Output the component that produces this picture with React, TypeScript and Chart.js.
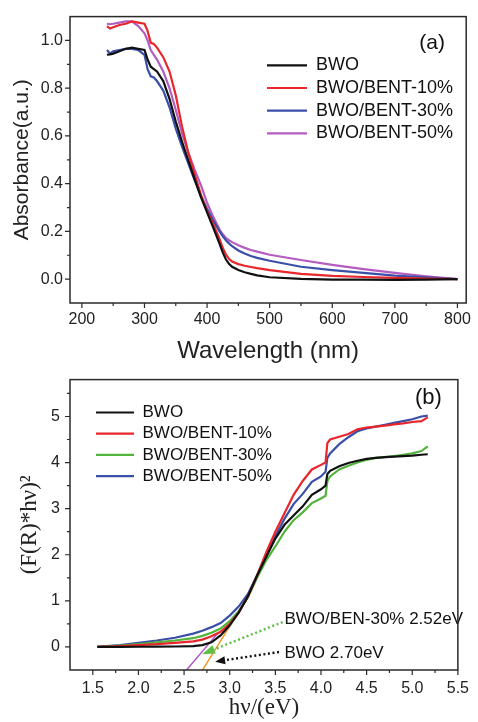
import React, { useEffect, useRef } from "react";
import { Chart, registerables } from "chart.js";

Chart.register(...registerables);

const SANS = "'Liberation Sans', Arial, Helvetica, sans-serif";
const SERIF = "'Liberation Serif', 'Times New Roman', serif";

// ---------------- Panel (a): absorbance vs wavelength ----------------
const seriesLabels = ["BWO", "BWO/BENT-10%", "BWO/BENT-30%", "BWO/BENT-50%"];

const wavelengthA = [240, 245, 250, 260, 270, 280, 290, 300, 305, 310, 315, 320, 330, 340, 350, 360, 370, 380, 390, 400, 410, 420, 425, 430, 435, 440, 450, 460, 470, 480, 500, 550, 600, 650, 700, 750, 800];
const absBWO = [0.94, 0.942, 0.945, 0.955, 0.965, 0.97, 0.965, 0.96, 0.92, 0.89, 0.88, 0.87, 0.83, 0.755, 0.66, 0.575, 0.498, 0.42, 0.345, 0.28, 0.215, 0.148, 0.112, 0.083, 0.064, 0.052, 0.038, 0.029, 0.022, 0.016, 0.008, 0.001, -0.002, -0.002, -0.003, -0.002, 0.0];
const absBENT10 = [1.06, 1.05, 1.055, 1.065, 1.07, 1.08, 1.075, 1.07, 1.04, 0.99, 0.985, 0.97, 0.93, 0.87, 0.77, 0.64, 0.53, 0.44, 0.355, 0.285, 0.23, 0.168, 0.132, 0.104, 0.085, 0.074, 0.063, 0.056, 0.051, 0.046, 0.038, 0.022, 0.014, 0.009, 0.005, 0.002, 0.0];
const absBENT30 = [0.96, 0.945, 0.955, 0.96, 0.965, 0.965, 0.96, 0.94, 0.88, 0.85, 0.845, 0.83, 0.79, 0.72, 0.63, 0.555, 0.485, 0.415, 0.35, 0.295, 0.245, 0.2, 0.18, 0.163, 0.15, 0.138, 0.12, 0.107, 0.097, 0.089, 0.077, 0.052, 0.038, 0.026, 0.015, 0.007, 0.0];
const absBENT50 = [1.07, 1.068, 1.07, 1.075, 1.08, 1.08, 1.06, 1.03, 1.0, 0.96, 0.94, 0.92, 0.87, 0.8, 0.71, 0.61, 0.53, 0.46, 0.395, 0.32, 0.26, 0.208, 0.188, 0.173, 0.163, 0.155, 0.142, 0.131, 0.122, 0.115, 0.102, 0.08, 0.06, 0.042, 0.026, 0.012, 0.0];

const xMajorA = [200, 300, 400, 500, 600, 700, 800];
const xMinorA = [250, 350, 450, 550, 650, 750];
const yMajorA = [0.0, 0.2, 0.4, 0.6, 0.8, 1.0];
const yMinorA = [0.1, 0.3, 0.5, 0.7, 0.9];

// ---------------- Panel (b): (F(R)*hv)^2 vs hv ----------------
const energyB = [1.55, 1.8, 2.0, 2.2, 2.4, 2.6, 2.7, 2.8, 2.9, 3.0, 3.1, 3.2, 3.3, 3.4, 3.5, 3.6, 3.7, 3.8, 3.9, 4.0, 4.05, 4.07, 4.1, 4.2, 4.3, 4.4, 4.5, 4.6, 4.7, 4.8, 4.9, 5.0, 5.1, 5.17];
const kmBWO = [0, 0.002, 0.004, 0.006, 0.01, 0.02, 0.04, 0.1, 0.25, 0.47, 0.75, 1.1, 1.55, 1.95, 2.35, 2.65, 2.85, 3.05, 3.3, 3.42, 3.5, 3.75, 3.82, 3.92, 3.99, 4.04, 4.08, 4.1, 4.12, 4.13, 4.14, 4.15, 4.17, 4.18];
const kmBENT10 = [0, 0.02, 0.04, 0.06, 0.09, 0.12, 0.16, 0.23, 0.33, 0.5, 0.75, 1.1, 1.55, 2.05, 2.5, 2.9, 3.3, 3.6, 3.85, 3.95, 4.0, 4.42, 4.5, 4.56, 4.62, 4.72, 4.76, 4.78, 4.8, 4.83, 4.85, 4.88, 4.9, 4.98];
const kmBENT30 = [0, 0.03, 0.06, 0.1, 0.14, 0.19, 0.24, 0.31, 0.4, 0.56, 0.78, 1.08, 1.5, 1.88, 2.18, 2.5, 2.75, 2.92, 3.12, 3.22, 3.28, 3.6, 3.7, 3.85, 3.93, 4.0, 4.06, 4.1, 4.12, 4.14, 4.17, 4.2, 4.25, 4.35];
const kmBENT50 = [0, 0.04, 0.09, 0.14, 0.2, 0.29, 0.35, 0.43, 0.52, 0.68, 0.88, 1.15, 1.55, 2.0, 2.4, 2.78, 3.1, 3.32, 3.58, 3.7, 3.8, 4.1, 4.2, 4.4, 4.55, 4.68, 4.74, 4.78, 4.82, 4.86, 4.9, 4.94, 5.0, 5.02];

const tangentBWOx = [2.697, 3.215];
const tangentBWOy = [-0.517, 1.135];
const tangent30x = [2.518, 2.875];
const tangent30y = [-0.52, 0.31];

const annoTexts = ["BWO/BEN-30% 2.52eV", "BWO 2.70eV"];
const annoX = [3.6, 3.6];
const annoY = [0.6, -0.144];
const arrowTailX = [3.58, 3.54];
const arrowTailY = [0.54, -0.11];
const arrowTipX = [2.697, 2.84];
const arrowTipY = [-0.157, -0.32];

const xMajorB = [1.5, 2.0, 2.5, 3.0, 3.5, 4.0, 4.5, 5.0, 5.5];
const xMinorB = [1.75, 2.25, 2.75, 3.25, 3.75, 4.25, 4.75, 5.25];
const yMajorB = [0, 1, 2, 3, 4, 5];
const yMinorB = [0.5, 1.5, 2.5, 3.5, 4.5, 5.5];

// ---------------- plugins ----------------
const framePlugin = {
  id: "frame",
  afterDraw(chart: any, _a: any, opts: any) {
    const { ctx, chartArea: a, scales } = chart;
    const xs = scales.x;
    const ys = scales.y;
    ctx.save();
    ctx.strokeStyle = "#2a2a2a";
    ctx.lineWidth = 1.5;
    ctx.strokeRect(a.left, a.top, a.right - a.left, a.bottom - a.top);
    ctx.lineWidth = 1.2;
    ctx.beginPath();
    const tick = (v: number, len: number, horiz: boolean) => {
      if (horiz) {
        const p = xs.getPixelForValue(v);
        ctx.moveTo(p, a.bottom);
        ctx.lineTo(p, a.bottom + len);
      } else {
        const p = ys.getPixelForValue(v);
        ctx.moveTo(a.left, p);
        ctx.lineTo(a.left - len, p);
      }
    };
    opts.xMajor.forEach((v: number) => tick(v, 5, true));
    opts.xMinor.forEach((v: number) => tick(v, 3, true));
    opts.yMajor.forEach((v: number) => tick(v, 5, false));
    opts.yMinor.forEach((v: number) => tick(v, 3, false));
    ctx.stroke();
    if (opts.label) {
      ctx.font = `${opts.labelSize}px ${SANS}`;
      ctx.fillStyle = "#111";
      ctx.textAlign = "center";
      ctx.textBaseline = "middle";
      ctx.fillText(opts.label, a.right - opts.labelDx, a.top + opts.labelDy);
    }
    ctx.restore();
  },
};

const legendPlacer = {
  id: "legendPlacer",
  beforeDraw(chart: any, _a: any, opts: any) {
    const lg = chart.legend;
    if (!lg) return;
    const pad = chart.options.plugins.legend.labels.padding || 0;
    lg.left = opts.x - pad;
    lg.top = opts.y - pad;
    lg.right = chart.width;
    lg.bottom = chart.height;
  },
};

function drawArrow(ctx: any, tx: number, ty: number, hx: number, hy: number, color: string, headLen: number, headW: number) {
  const dx = hx - tx;
  const dy = hy - ty;
  const L = Math.hypot(dx, dy);
  const ux = dx / L;
  const uy = dy / L;
  const bx = hx - ux * headLen;
  const by = hy - uy * headLen;
  ctx.save();
  ctx.strokeStyle = color;
  ctx.fillStyle = color;
  ctx.lineWidth = 2.4;
  ctx.setLineDash([2, 2.6]);
  ctx.beginPath();
  ctx.moveTo(tx, ty);
  ctx.lineTo(bx, by);
  ctx.stroke();
  ctx.setLineDash([]);
  ctx.beginPath();
  ctx.moveTo(hx, hy);
  ctx.lineTo(bx - uy * headW, by + ux * headW);
  ctx.lineTo(bx + uy * headW, by - ux * headW);
  ctx.closePath();
  ctx.fill();
  ctx.restore();
}

const annotationPlugin = {
  id: "annotations",
  afterDatasetsDraw(chart: any) {
    const { ctx, scales } = chart;
    const xs = scales.x;
    const ys = scales.y;
    const colors = ["#5cc046", "#111111"];
    const heads = [[13, 4.5], [10, 4]];
    arrowTipX.forEach((_, i) => {
      drawArrow(
        ctx,
        xs.getPixelForValue(arrowTailX[i]),
        ys.getPixelForValue(arrowTailY[i]),
        xs.getPixelForValue(arrowTipX[i]),
        ys.getPixelForValue(arrowTipY[i]),
        colors[i],
        heads[i][0],
        heads[i][1]
      );
    });
    ctx.save();
    ctx.font = `17px ${SANS}`;
    ctx.fillStyle = "#111";
    ctx.textAlign = "left";
    ctx.textBaseline = "middle";
    annoTexts.forEach((t, i) => {
      ctx.fillText(t, xs.getPixelForValue(annoX[i]), ys.getPixelForValue(annoY[i]));
    });
    ctx.restore();
  },
};

const pts = (xs: number[], ys: number[]) => xs.map((x, i) => ({ x, y: ys[i] }));

const lineDs = (label: string, data: any[], color: string, width = 2.2) => ({
  label,
  data,
  borderColor: color,
  backgroundColor: color,
  borderWidth: width,
  pointRadius: 0,
  tension: 0,
  fill: false,
});

function configA(): any {
  return {
    type: "line",
    data: {
      datasets: [
        lineDs(seriesLabels[0], pts(wavelengthA, absBWO), "#111111"),
        lineDs(seriesLabels[1], pts(wavelengthA, absBENT10), "#e8262b"),
        lineDs(seriesLabels[2], pts(wavelengthA, absBENT30), "#3a4fa8"),
        lineDs(seriesLabels[3], pts(wavelengthA, absBENT50), "#b45cbf"),
      ],
    },
    options: {
      responsive: false,
      animation: false,
      devicePixelRatio: 1,
      layout: { padding: { top: 11, right: 10, left: 0, bottom: 0 } },
      scales: {
        x: {
          type: "linear",
          min: 181,
          max: 814,
          afterBuildTicks: (s: any) => {
            s.ticks = xMajorA.map((v) => ({ value: v }));
          },
          afterFit: (s: any) => {
            s.height = 69;
          },
          grid: { display: false, drawTicks: false },
          border: { display: false },
          ticks: {
            autoSkip: false,
            maxRotation: 0,
            padding: 7,
            color: "#222",
            font: { family: SANS, size: 16 },
            callback: (v: any) => String(v),
          },
          title: {
            display: true,
            text: "Wavelength (nm)",
            color: "#222",
            font: { family: SANS, size: 24 },
            padding: { top: 0, bottom: 6.5 },
          },
        },
        y: {
          type: "linear",
          min: -0.1,
          max: 1.1,
          afterBuildTicks: (s: any) => {
            s.ticks = yMajorA.map((v) => ({ value: v }));
          },
          afterFit: (s: any) => {
            s.width = 70;
          },
          grid: { display: false, drawTicks: false },
          border: { display: false },
          ticks: {
            padding: 7,
            color: "#222",
            font: { family: SANS, size: 16 },
            callback: (v: any) => Number(v).toFixed(1),
          },
          title: {
            display: true,
            text: "Absorbance(a.u.)",
            color: "#222",
            font: { family: SANS, size: 21 },
            padding: { top: 10, bottom: 0 },
          },
        },
      },
      plugins: {
        legend: {
          display: true,
          position: "chartArea",
          align: "start",
          labels: {
            usePointStyle: true,
            pointStyle: "line",
            pointStyleWidth: 40,
            padding: 4.7,
            color: "#111",
            font: { family: SANS, size: 18 },
          },
        },
        tooltip: { enabled: false },
        frame: { xMajor: xMajorA, xMinor: xMinorA, yMajor: yMajorA, yMinor: yMinorA, label: "(a)", labelSize: 21, labelDx: 34, labelDy: 27 },
        legendPlacer: { x: 267, y: 56.3 },
      },
    },
    plugins: [framePlugin, legendPlacer],
  };
}

function configB(): any {
  return {
    type: "line",
    data: {
      datasets: [
        lineDs(seriesLabels[0], pts(energyB, kmBWO), "#111111"),
        lineDs(seriesLabels[1], pts(energyB, kmBENT10), "#e8262b"),
        lineDs(seriesLabels[2], pts(energyB, kmBENT30), "#52b43c"),
        lineDs(seriesLabels[3], pts(energyB, kmBENT50), "#3a4fa8"),
        lineDs("BWO tangent", pts(tangentBWOx, tangentBWOy), "#f7931e", 1.4),
        lineDs("BWO/BENT-30% tangent", pts(tangent30x, tangent30y), "#b04cc4", 1.4),
      ],
    },
    options: {
      responsive: false,
      animation: false,
      devicePixelRatio: 1,
      layout: { padding: { top: 16.7, right: 11, left: 0, bottom: 0 } },
      scales: {
        x: {
          type: "linear",
          min: 1.25,
          max: 5.5,
          afterBuildTicks: (s: any) => {
            s.ticks = xMajorB.map((v) => ({ value: v }));
          },
          afterFit: (s: any) => {
            s.height = 52;
          },
          grid: { display: false, drawTicks: false },
          border: { display: false },
          ticks: {
            autoSkip: false,
            maxRotation: 0,
            padding: 9,
            color: "#222",
            font: { family: SANS, size: 16 },
            callback: (v: any) => Number(v).toFixed(1),
          },
          title: {
            display: true,
            text: "hν/(eV)",
            color: "#222",
            font: { family: SERIF, size: 23 },
            padding: { top: 0, bottom: 0.5 },
          },
        },
        y: {
          type: "linear",
          min: -0.5,
          max: 5.8,
          afterBuildTicks: (s: any) => {
            s.ticks = yMajorB.map((v) => ({ value: v }));
          },
          afterFit: (s: any) => {
            s.width = 70;
          },
          grid: { display: false, drawTicks: false },
          border: { display: false },
          ticks: {
            padding: 10,
            color: "#222",
            font: { family: SANS, size: 16 },
            callback: (v: any) => String(v),
          },
          title: {
            display: true,
            text: "(F(R)*hν)²",
            color: "#222",
            font: { family: SERIF, size: 23 },
            padding: { top: 16, bottom: 0 },
          },
        },
      },
      plugins: {
        legend: {
          display: true,
          position: "chartArea",
          align: "start",
          labels: {
            usePointStyle: true,
            pointStyle: "line",
            pointStyleWidth: 38,
            padding: 4.2,
            color: "#111",
            font: { family: SANS, size: 17 },
            filter: (item: any) => item.datasetIndex < 4,
          },
        },
        tooltip: { enabled: false },
        frame: { xMajor: xMajorB, xMinor: xMinorB, yMajor: yMajorB, yMinor: yMinorB, label: "(b)", labelSize: 22, labelDx: 29.5, labelDy: 18.3 },
        legendPlacer: { x: 96, y: 44 },
      },
    },
    plugins: [framePlugin, legendPlacer, annotationPlugin],
  };
}

function ChartCanvas({ make, top, height }: { make: () => any; top: number; height: number }) {
  const ref = useRef<HTMLCanvasElement>(null);
  useEffect(() => {
    const chart = new Chart(ref.current as HTMLCanvasElement, make());
    return () => chart.destroy();
  }, [make]);
  return (
    <canvas
      ref={ref}
      width={478}
      height={height}
      style={{ position: "absolute", left: 0, top, width: 478, height }}
    />
  );
}

export default function App() {
  return (
    <div style={{ position: "absolute", left: 0, top: 0, width: 478, height: 722, background: "#fff", overflow: "hidden" }}>
      <ChartCanvas make={configA} top={0} height={372} />
      <ChartCanvas make={configB} top={360} height={362} />
    </div>
  );
}
